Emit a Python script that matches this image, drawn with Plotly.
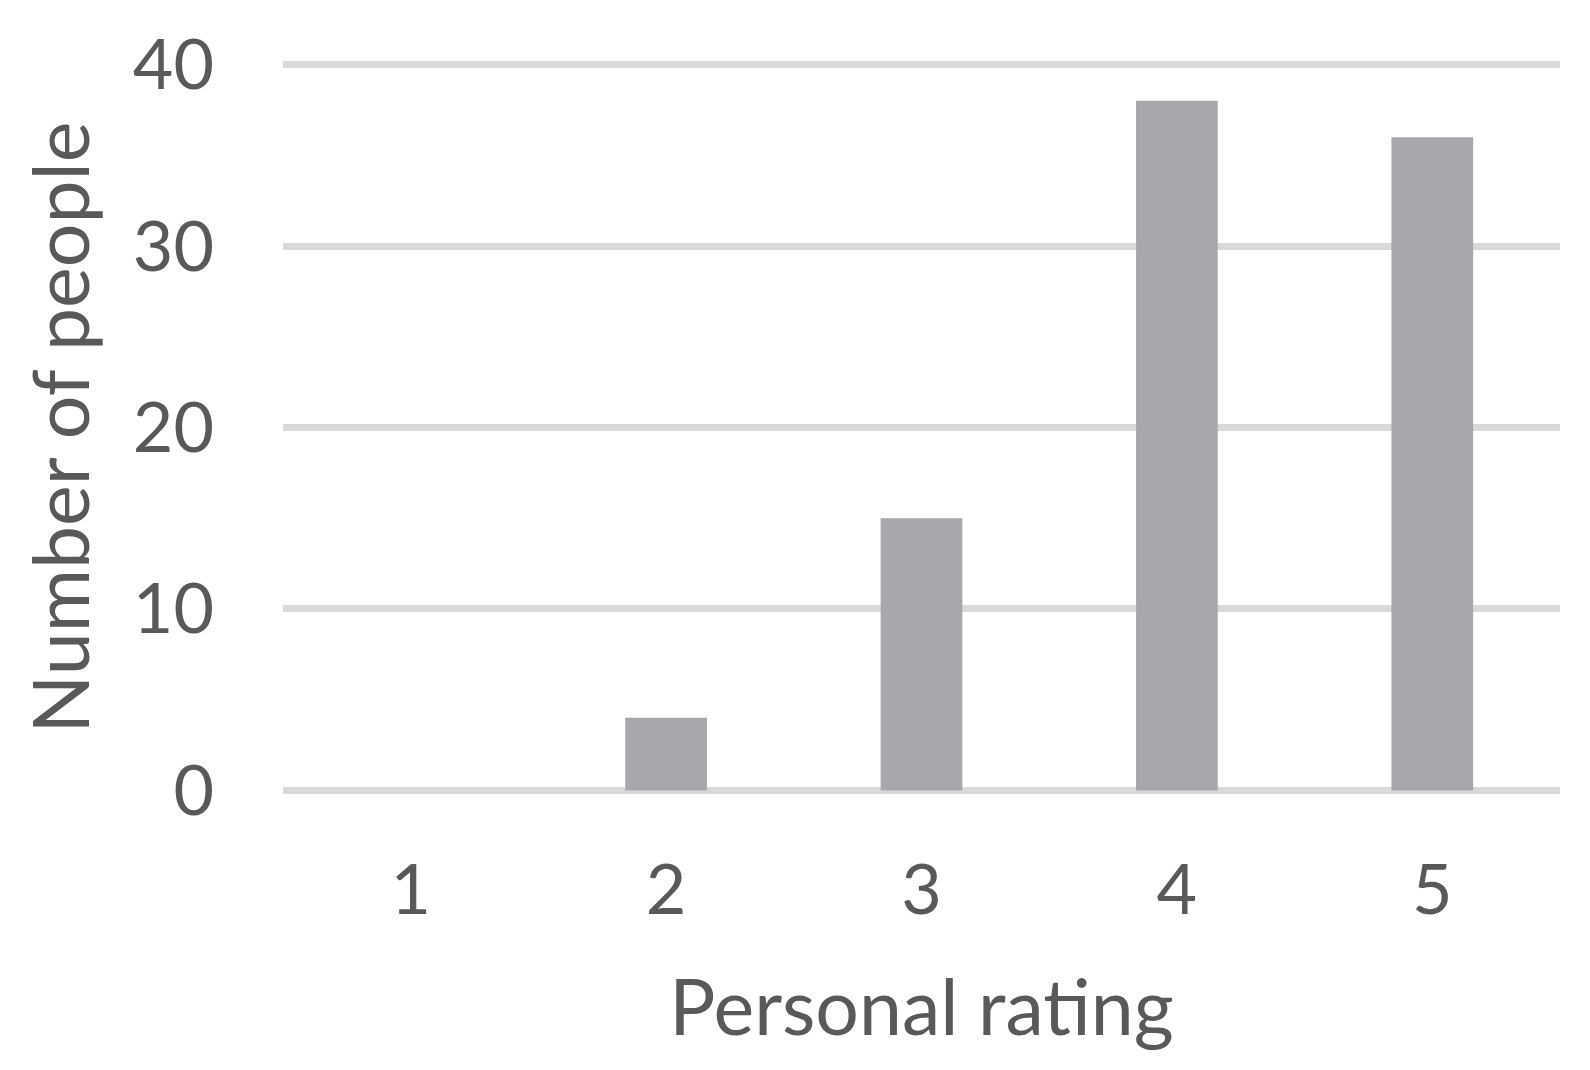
import plotly.graph_objects as go

# Personal rating survey counts
ratings = ["1", "2", "3", "4", "5"]
people = [0, 4, 15, 38, 36]
y_ticks = [0, 10, 20, 30, 40]

text_color = "#595959"
bar_color = "#a7a8ab"
grid_color = "#d9d9d9"

fig = go.Figure()
fig.add_trace(go.Bar(x=ratings, y=people, marker_color=bar_color, marker_line_width=0))

fig.update_layout(
    width=1590,
    height=1070,
    margin=dict(l=275, r=38, t=50, b=283),
    plot_bgcolor="white",
    paper_bgcolor="white",
    font=dict(family="Lato", size=70, color=text_color),
    bargap=0.68,
    showlegend=False,
)

fig.update_xaxes(
    type="category",
    showgrid=False,
    showline=False,
    zeroline=False,
    ticks="",
    ticklabelstandoff=48,
    title=dict(text="Personal rating", font=dict(size=77, color=text_color), standoff=53),
)

fig.update_yaxes(
    range=[-0.25, 40.25],
    tickvals=y_ticks,
    showgrid=True,
    gridcolor=grid_color,
    gridwidth=7,
    zeroline=False,
    showline=False,
    ticks="",
    ticklabelstandoff=68,
    title=dict(text="Number of people", font=dict(size=77, color=text_color), standoff=17),
)

fig.write_html("out.html")
